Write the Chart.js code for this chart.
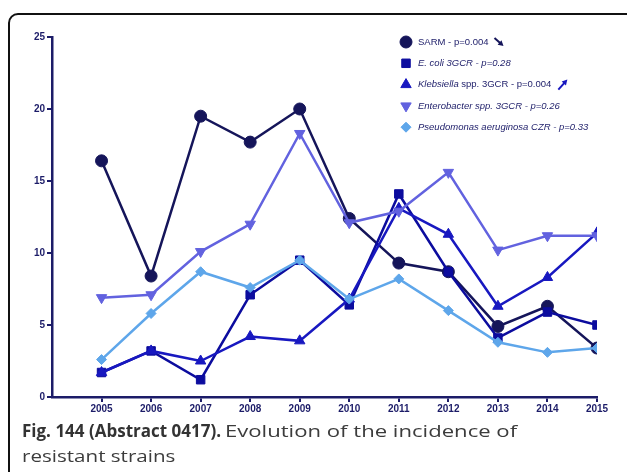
<!DOCTYPE html>
<html>
<head>
<meta charset="utf-8">
<script src="https://cdn.jsdelivr.net/npm/chart.js@4.4.1/dist/chart.umd.min.js"></script>
<style>
  body { margin: 0; background: #fff; width: 627px; height: 472px; overflow: hidden; position: relative; font-family: "Open Sans", sans-serif; }
  .frame { position: absolute; left: 8px; top: 13px; width: 640px; height: 480px; border: 2px solid #111; border-radius: 10px; }
  #wrap { position: absolute; left: 0; top: 0; width: 627px; height: 420px; }
  .caption { position: absolute; left: 22px; top: 418px; font-size: 17px; line-height: 25px; color: #3c3c3c; white-space: nowrap; }
  .caption b { font-weight: 700; color: #333; }
  .caption .n { display: inline-block; transform: scaleX(1.3); transform-origin: left center; }
  .caption .n2 { display: inline-block; transform: scaleX(1.21); transform-origin: left center; }
</style>
</head>
<body>
<div class="frame"></div>
<div id="wrap"><canvas id="chart"></canvas></div>
<div class="caption"><div><b>Fig. 144 (Abstract 0417).</b> <span class="n">Evolution of the incidence of</span></div><div><span class="n2">resistant strains</span></div></div>
<script>
const years = [2005, 2006, 2007, 2008, 2009, 2010, 2011, 2012, 2013, 2014, 2015];
const sarm = [16.4, 8.4, 19.5, 17.7, 20.0, 12.4, 9.3, 8.7, 4.9, 6.3, 3.4];
const ecoli = [1.7, 3.2, 1.2, 7.1, 9.5, 6.4, 14.1, 8.7, 4.1, 5.9, 5.0];
const klebsiella = [1.7, 3.2, 2.5, 4.2, 3.9, 6.8, 13.1, 11.3, 6.3, 8.3, 11.4];
const enterobacter = [6.9, 7.1, 10.1, 12.0, 18.3, 12.1, 12.9, 15.6, 10.2, 11.2, 11.2];
const pseudomonas = [2.6, 5.8, 8.7, 7.6, 9.5, 6.8, 8.2, 6.0, 3.8, 3.1, 3.4];
const yTicks = [0, 5, 10, 15, 20, 25];

// legend text, split so species names can be italic
const legendParts = [
  [['SARM - p=0.004', false]],
  [['E. coli 3GCR - p=0.28', true]],
  [['Klebsiella', true], [' spp. 3GCR - p=0.004', false]],
  [['Enterobacter spp. 3GCR - p=0.26', true]],
  [['Pseudomonas aeruginosa CZR - p=0.33', true]]
];

const navy = '#1c1c68';
const toPts = vals => vals.map((v, i) => ({ x: years[i], y: v }));

function series(label, vals, color, style, radius, rotation) {
  return {
    label: label,
    data: toPts(vals),
    borderColor: color,
    backgroundColor: color,
    borderWidth: 2.5,
    pointStyle: style,
    pointRadius: radius,
    pointRotation: rotation || 0,
    pointBorderWidth: 1,
    tension: 0
  };
}

const datasets = [
  series('Pseudomonas', pseudomonas, '#5ea6ea', 'rectRot', 5),
  series('Enterobacter', enterobacter, '#6262df', 'triangle', 6, 180),
  series('Klebsiella', klebsiella, '#1818c0', 'triangle', 6),
  series('E. coli', ecoli, '#0c0c9e', 'rect', 6),
  series('SARM', sarm, '#15155a', 'circle', 6)
];
// order in the legend: SARM first
const legendOrder = [4, 3, 2, 1, 0];

function arrow(ctx, x1, y1, x2, y2, color) {
  const a = Math.atan2(y2 - y1, x2 - x1);
  ctx.strokeStyle = color;
  ctx.fillStyle = color;
  ctx.lineWidth = 2;
  ctx.beginPath();
  ctx.moveTo(x1, y1);
  ctx.lineTo(x2 - 3 * Math.cos(a), y2 - 3 * Math.sin(a));
  ctx.stroke();
  ctx.beginPath();
  ctx.moveTo(x2, y2);
  ctx.lineTo(x2 - 6 * Math.cos(a - 0.5), y2 - 6 * Math.sin(a - 0.5));
  ctx.lineTo(x2 - 6 * Math.cos(a + 0.5), y2 - 6 * Math.sin(a + 0.5));
  ctx.closePath();
  ctx.fill();
}

const legendPlugin = {
  id: 'customLegend',
  afterDraw(chart) {
    const ctx = chart.ctx;
    ctx.save();
    legendOrder.forEach((di, row) => {
      const ds = chart.data.datasets[di];
      const y = 42 + row * 21.3;
      ctx.fillStyle = ds.backgroundColor;
      ctx.strokeStyle = ds.borderColor;
      ctx.lineWidth = 1;
      Chart.helpers.drawPoint(ctx, {
        pointStyle: ds.pointStyle,
        radius: ds.pointRadius,
        rotation: ds.pointRotation,
        borderWidth: 1
      }, 406, y);
      let x = 418;
      ctx.textBaseline = 'middle';
      ctx.fillStyle = navy;
      legendParts[row].forEach(([txt, it]) => {
        ctx.font = (it ? 'italic ' : '') + '9.5px "Liberation Sans", Arial, sans-serif';
        ctx.fillText(txt, x, y);
        x += ctx.measureText(txt).width;
      });
      if (row === 0) arrow(ctx, x + 6, y - 4, x + 15, y + 4, '#15155a');
      if (row === 2) arrow(ctx, x + 7, y + 5, x + 16, y - 5, '#1818c0');
    });
    ctx.restore();
  }
};

new Chart(document.getElementById('chart'), {
  type: 'line',
  data: { datasets: datasets },
  options: {
    responsive: true,
    maintainAspectRatio: false,
    animation: false,
    layout: { padding: { left: 0, right: 30, top: 37, bottom: 0 } },
    plugins: { legend: { display: false }, tooltip: { enabled: false } },
    scales: {
      x: {
        type: 'linear',
        min: 2004,
        max: 2015,
        afterBuildTicks: s => { s.ticks = years.map(v => ({ value: v })); },
        afterFit: s => { s.height = 23; },
        border: { display: true, color: navy, width: 2.5 },
        grid: { display: true, drawOnChartArea: false, drawTicks: true, tickLength: 5, color: navy, lineWidth: 2 },
        ticks: {
          color: navy,
          padding: 1,
          maxRotation: 0,
          autoSkip: false,
          font: { family: '"Liberation Sans", Arial, sans-serif', size: 10, weight: 'bold' },
          callback: v => String(v)
        }
      },
      y: {
        min: 0,
        max: 25,
        afterBuildTicks: s => { s.ticks = yTicks.map(v => ({ value: v })); },
        afterFit: s => { s.width = 52; },
        border: { display: true, color: navy, width: 2.5 },
        grid: { display: true, drawOnChartArea: false, drawTicks: true, tickLength: 5, color: navy, lineWidth: 2 },
        ticks: {
          color: navy,
          padding: 2,
          font: { family: '"Liberation Sans", Arial, sans-serif', size: 10, weight: 'bold' }
        }
      }
    }
  },
  plugins: [legendPlugin]
});
</script>
</body>
</html>
